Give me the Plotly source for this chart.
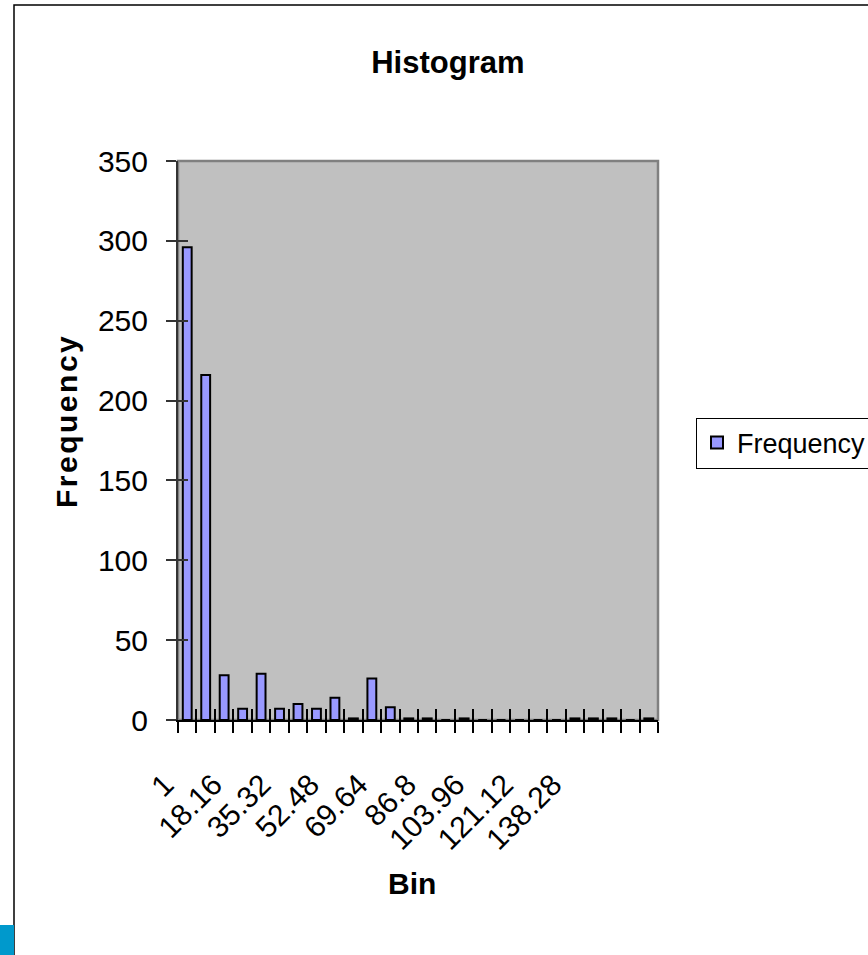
import plotly.graph_objects as go

# ---- data ----
bins = ["1", "6.72", "12.44", "18.16", "23.88", "29.6", "35.32", "41.04", "46.76",
        "52.48", "58.2", "63.92", "69.64", "75.36", "81.08", "86.8", "92.52", "98.24",
        "103.96", "109.68", "115.4", "121.12", "126.84", "132.56", "138.28", "More"]
frequency = [296, 216, 28, 7, 29, 7, 10, 7, 14, 1, 26, 8, 1, 1, 0, 1,
             0, 0, 0, 0, 0, 1, 1, 1, 0, 1]
label_bins = bins[0:25:3]
y_ticks = [0, 50, 100, 150, 200, 250, 300, 350]

FONT = "Liberation Sans, Arial, sans-serif"

fig = go.Figure()
fig.add_trace(go.Bar(
    x=bins, y=frequency, name="Frequency",
    marker=dict(color="#9999FF", line=dict(color="black", width=2)),
    xaxis="x", yaxis="y",
))
# invisible helper traces so the overlay axes are laid out
fig.add_trace(go.Scatter(x=bins, y=frequency, mode="markers", marker=dict(opacity=0),
                         showlegend=False, hoverinfo="skip", xaxis="x2", yaxis="y2"))
fig.add_trace(go.Scatter(x=bins, y=frequency, mode="markers", marker=dict(opacity=0),
                         showlegend=False, hoverinfo="skip", xaxis="x3", yaxis="y"))

cat_common = dict(type="category", categoryorder="array", categoryarray=bins,
                  range=[-0.5, len(bins) - 0.5], showgrid=False, zeroline=False,
                  fixedrange=True)

fig.update_layout(
    width=868, height=955,
    margin=dict(l=150, r=210, t=161, b=235, autoexpand=False),
    paper_bgcolor="white",
    plot_bgcolor="rgba(0,0,0,0)",
    bargap=0.52,
    font=dict(family=FONT, size=30, color="black"),
    title=dict(text="<b>Histogram</b>", x=0.516, xref="container", xanchor="center",
               y=1 - 62 / 955, yref="container", yanchor="middle",
               font=dict(size=31, family=FONT, color="black")),
    xaxis=dict(**cat_common, domain=[28 / 508, 1], anchor="y",
               tickson="boundaries", ticks="outside", ticklen=11, tickwidth=1.5,
               tickcolor="black", showticklabels=False,
               showline=True, linecolor="black", linewidth=2),
    xaxis2=dict(**cat_common, overlaying="x", anchor="y",
                tickson="boundaries", ticks="inside", ticklen=11, tickwidth=1.5,
                tickcolor="black", showticklabels=False, showline=False),
    xaxis3=dict(**cat_common, domain=[0.0136, 0.8411], anchor="y",
                ticks="", showline=False, tickmode="array",
                tickvals=label_bins, ticktext=label_bins, tickangle=-45,
                ticklabelstandoff=40, tickfont=dict(size=30, family=FONT)),
    yaxis=dict(range=[0, 350], tickmode="array", tickvals=y_ticks, anchor="x",
               ticks="outside", ticklen=10, tickwidth=1.5, tickcolor="#333333",
               showgrid=False, zeroline=False, fixedrange=True,
               showline=True, linecolor="#333333", linewidth=2,
               ticklabelstandoff=12, tickfont=dict(size=30, family=FONT)),
    yaxis2=dict(range=[0, 350], tickmode="array", tickvals=y_ticks, overlaying="y",
                anchor="x", side="left", ticks="inside", ticklen=10, tickwidth=1.5,
                tickcolor="#333333", showticklabels=False, showgrid=False,
                zeroline=False, showline=False, fixedrange=True),
    showlegend=True,
    legend=dict(x=(696 - 150) / 508, xanchor="left", y=0.4955, yanchor="middle",
                xref="paper", yref="paper",
                bgcolor="white", bordercolor="black", borderwidth=1,
                font=dict(size=27, family=FONT, color="black")),
    annotations=[
        dict(text="<b>F\u200ar\u200ae\u200aq\u200au\u200ae\u200an\u200ac\u200ay</b>",
             textangle=-90, x=(66 - 150) / 508, y=(720 - 422) / 559,
             xref="paper", yref="paper", showarrow=False,
             xanchor="center", yanchor="middle",
             font=dict(size=30, family=FONT, color="black")),
        dict(text="<b>Bin</b>", x=(412 - 150) / 508, y=(720 - 883) / 559,
             xref="paper", yref="paper", showarrow=False,
             xanchor="center", yanchor="middle",
             font=dict(size=30, family=FONT, color="black")),
    ],
    shapes=[
        # plot area background + gray frame
        dict(type="rect", xref="x domain", yref="y domain", x0=0, x1=1, y0=0, y1=1,
             fillcolor="#C0C0C0", line=dict(color="#808080", width=2.5), layer="below"),
        # outer chart border
        dict(type="rect", xref="paper", yref="paper",
             x0=(14 - 150) / 508, x1=2.0, y0=-2.0, y1=(720 - 5) / 559,
             line=dict(color="black", width=1.5), layer="above"),
        # small blue block bottom-left
        dict(type="rect", xref="paper", yref="paper",
             x0=-150 / 508, x1=(14 - 150) / 508, y0=(720 - 960) / 559, y1=(720 - 925) / 559,
             fillcolor="#0099CC", line=dict(width=0), layer="above"),
    ],
)

fig.write_html("out.html")
